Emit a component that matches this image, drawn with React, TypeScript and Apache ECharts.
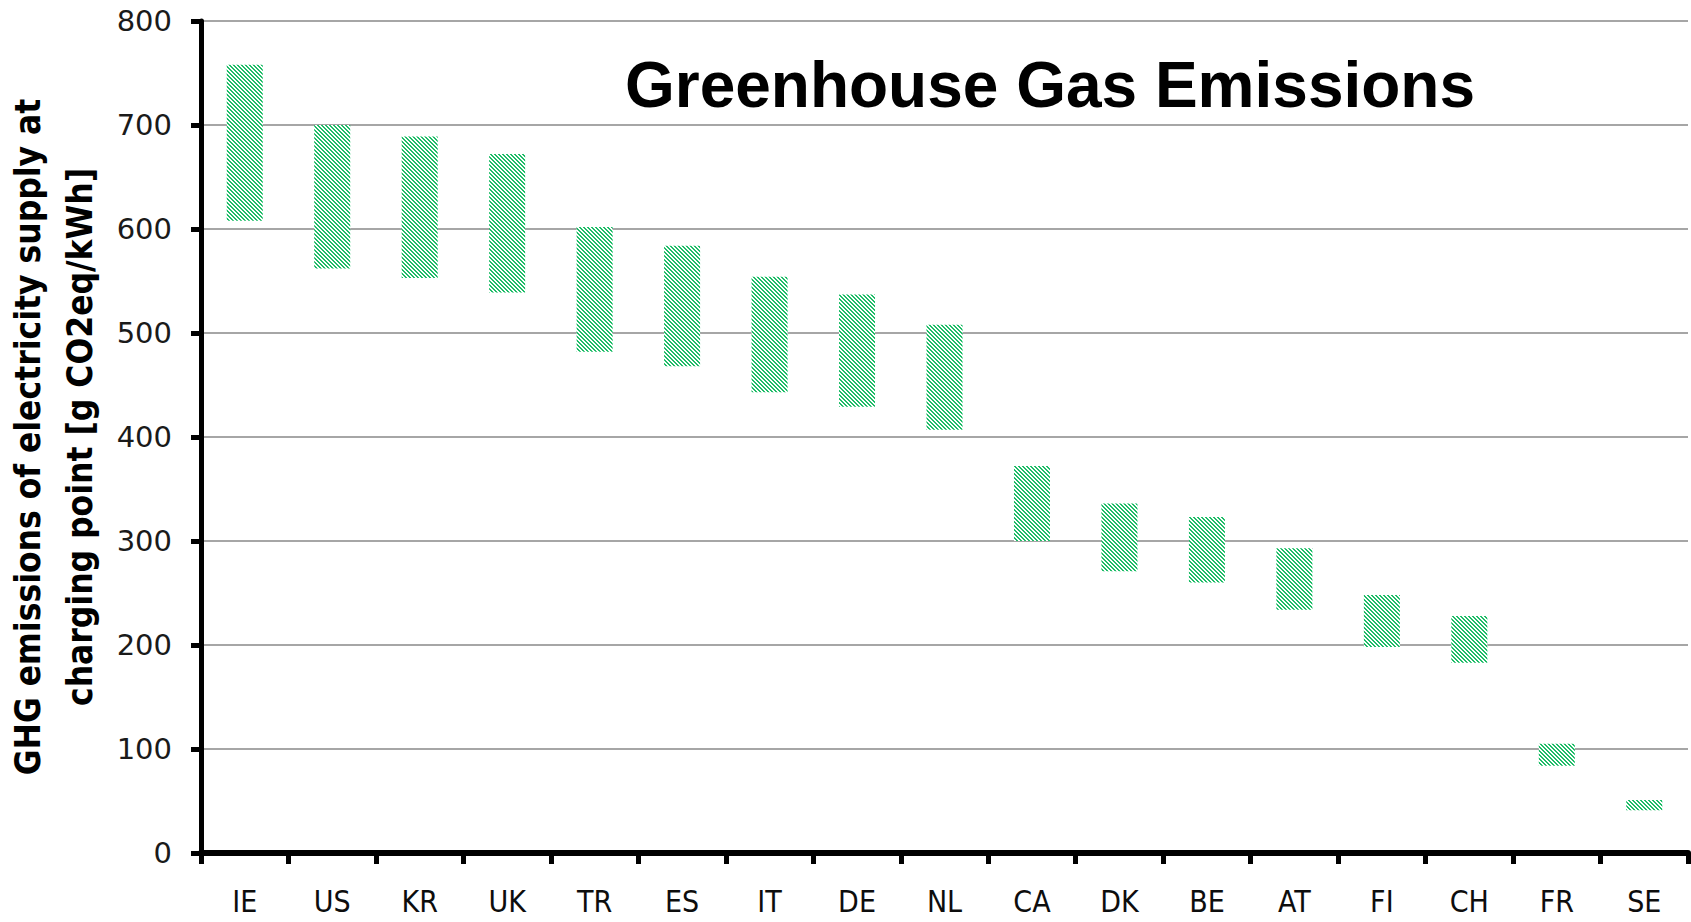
import React, { useEffect, useRef } from "react";
import * as echarts from "echarts";

const categories = ["IE", "US", "KR", "UK", "TR", "ES", "IT", "DE", "NL", "CA", "DK", "BE", "AT", "FI", "CH", "FR", "SE"];
const lowValues = [608, 562, 553, 539, 482, 468, 443, 429, 407, 300, 271, 260, 234, 198, 183, 84, 41];
const highValues = [758, 700, 689, 672, 602, 584, 554, 537, 508, 372, 336, 323, 293, 248, 228, 105, 51];
const yTicks = { min: 0, max: 800, interval: 100 };
const titleText = "Greenhouse Gas Emissions";
const yName = "GHG emissions of electricity supply at\ncharging point [g CO2eq/kWh]";

function makeHatch(): HTMLCanvasElement {
  const c = document.createElement("canvas");
  c.width = 4;
  c.height = 4;
  const ctx = c.getContext("2d")!;
  ctx.fillStyle = "#ffffff";
  ctx.fillRect(0, 0, 4, 4);
  for (let y = 0; y < 4; y++) {
    for (let x = 0; x < 4; x++) {
      const d = (((x - y) % 4) + 4) % 4;
      if (d === 0 || d === 1) {
        ctx.fillStyle = "#1fbd68";
        ctx.fillRect(x, y, 1, 1);
      }
    }
  }
  return c;
}

export default function App() {
  const ref = useRef<HTMLDivElement>(null);
  useEffect(() => {
    if (!ref.current) return;
    const chart = echarts.init(ref.current, null, { renderer: "svg" });
    const hatch = makeHatch();
    const spans = highValues.map((h, i) => h - lowValues[i]);
    chart.setOption({
      animation: false,
      backgroundColor: "#ffffff",
      grid: { left: 201, right: 3, top: 21, bottom: 69, containLabel: false, outerBoundsMode: "none" },
      graphic: [
        {
          type: "text",
          x: 1050,
          y: 85,
          style: {
            text: titleText,
            fill: "#000000",
            font: "bold 64px 'Liberation Sans', Arial, sans-serif",
            align: "center",
            verticalAlign: "middle",
          },
        },
      ],
      xAxis: {
        type: "category",
        data: categories,
        boundaryGap: true,
        axisLine: { show: true, lineStyle: { color: "#000000", width: 6 } },
        axisTick: { show: true, alignWithLabel: false, length: 11, lineStyle: { color: "#000000", width: 5 } },
        axisLabel: {
          color: "#0d0d0d",
          fontSize: 30,
          fontFamily: "'DejaVu Sans Condensed', sans-serif",
          margin: 33,
        },
        splitLine: { show: false },
      },
      yAxis: {
        type: "value",
        min: yTicks.min,
        max: yTicks.max,
        interval: yTicks.interval,
        name: yName,
        nameLocation: "middle",
        nameRotate: 90,
        nameGap: 89,
        nameTextStyle: {
          color: "#000000",
          fontSize: 35,
          fontWeight: "bold",
          fontFamily: "'DejaVu Sans Condensed', sans-serif",
          lineHeight: 52,
        },
        axisLine: { show: true, lineStyle: { color: "#000000", width: 5 } },
        axisTick: { show: true, length: 10, lineStyle: { color: "#000000", width: 5 } },
        axisLabel: {
          color: "#1a1a1a",
          fontSize: 29,
          fontFamily: "'DejaVu Sans', Verdana, sans-serif",
          margin: 29,
        },
        splitLine: { show: true, lineStyle: { color: "#a6a6a6", width: 2 } },
      },
      series: [
        {
          type: "bar",
          name: "base",
          stack: "range",
          data: lowValues,
          barWidth: 36,
          silent: true,
          itemStyle: { color: "rgba(0,0,0,0)" },
        },
        {
          type: "bar",
          name: "range",
          stack: "range",
          data: spans,
          barWidth: 36,
          itemStyle: {
            color: { image: hatch, repeat: "repeat", imageWidth: 4, imageHeight: 4 },
          },
        },
      ],
    });
    return () => chart.dispose();
  }, []);
  return (
    <div
      ref={ref}
      style={{ position: "fixed", left: 0, top: 0, width: 1691, height: 922, background: "#fff" }}
    />
  );
}
